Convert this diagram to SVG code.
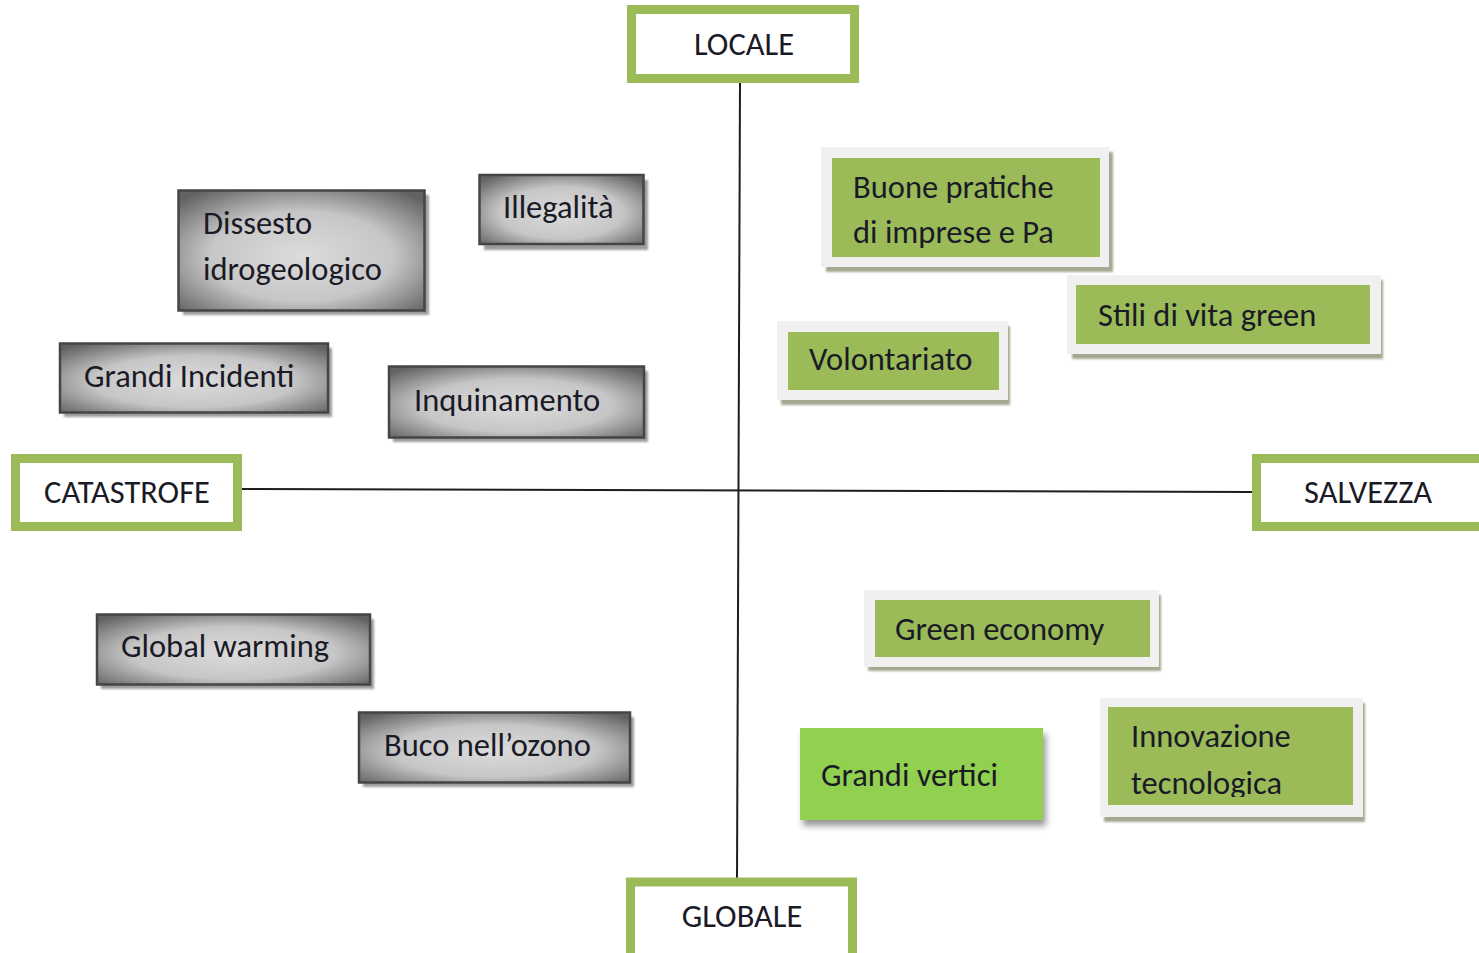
<svg xmlns="http://www.w3.org/2000/svg" width="1479" height="953" viewBox="0 0 1479 953">
<defs>
<radialGradient id="gray" cx="50%" cy="55%" r="68%">
<stop offset="0" stop-color="#dcdcdc"/>
<stop offset="0.55" stop-color="#c6c6c6"/>
<stop offset="1" stop-color="#626262"/>
</radialGradient>
<filter id="blur" x="-20%" y="-20%" width="140%" height="140%"><feGaussianBlur stdDeviation="3"/></filter>
<filter id="soft" x="-10%" y="-10%" width="120%" height="120%"><feGaussianBlur stdDeviation="1"/></filter>
</defs>
<style>
text{font-family:Carlito,Lato,"Liberation Sans",sans-serif;font-size:32.5px;fill:#1a1a26}
.axisbox{fill:#fff;stroke:#9bbb59;stroke-width:9}
.axis{stroke:#1e1e1e;stroke-width:2;fill:none}
.gbox{fill:url(#gray);stroke:#454545;stroke-width:2.5}
.gshadow{fill:#9c9c9c;filter:url(#soft)}
.frame{fill:#f0f0f0}
.fshadow{fill:#a3a98f;filter:url(#soft)}
.green{fill:#9bbb59}
.bright{fill:#92d050}
.bshadow{fill:#555;opacity:0.6;filter:url(#blur)}
</style>
<rect width="1479" height="953" fill="#fff"/>
<g id="connectors">
<path class="axis" d="M740 83 L737 878"/>
<path class="axis" d="M242 489 L1252 492"/>
</g>
<g id="locale"><rect class="axisbox" x="631.5" y="9.5" width="223" height="69"/><text x="744" y="55" text-anchor="middle">LOCALE</text></g>
<g id="catastrofe"><rect class="axisbox" x="15.5" y="458.5" width="222" height="68"/><text x="127" y="503" text-anchor="middle">CATASTROFE</text></g>
<g id="salvezza"><rect class="axisbox" x="1256.5" y="458.5" width="230" height="68"/><text x="1368" y="503" text-anchor="middle">SALVEZZA</text></g>
<g id="globale"><rect class="axisbox" x="630.5" y="882" width="222" height="78"/><text x="742" y="927" text-anchor="middle">GLOBALE</text></g>

<g id="dissesto"><rect class="gshadow" x="183" y="195" width="246" height="120"/><rect class="gbox" x="178.5" y="190.5" width="246" height="120"/><text x="203" y="234">Dissesto</text><text x="203" y="280">idrogeologico</text></g>
<g id="illegalita"><rect class="gshadow" x="484" y="180" width="164" height="70"/><rect class="gbox" x="479.5" y="175" width="164" height="69"/><text x="503" y="218">Illegalità</text></g>
<g id="grandi-incidenti"><rect class="gshadow" x="64" y="348" width="268" height="69"/><rect class="gbox" x="60" y="343.5" width="268" height="69"/><text x="84" y="387">Grandi Incidenti</text></g>
<g id="inquinamento"><rect class="gshadow" x="393" y="371" width="255" height="71"/><rect class="gbox" x="389" y="366.5" width="255" height="71"/><text x="414" y="411">Inquinamento</text></g>
<g id="global-warming"><rect class="gshadow" x="101" y="619" width="273" height="70"/><rect class="gbox" x="97" y="614.5" width="273" height="70"/><text x="121" y="657">Global warming</text></g>
<g id="buco"><rect class="gshadow" x="363" y="717" width="271" height="70"/><rect class="gbox" x="359" y="712.5" width="271" height="70"/><text x="384" y="756">Buco nell’ozono</text></g>

<g id="buone-pratiche"><rect class="fshadow" x="826" y="152" width="287" height="120"/><rect class="frame" x="821" y="147" width="288" height="120"/><rect class="green" x="832" y="158" width="268" height="99"/><text x="853" y="198">Buone pratiche</text><text x="853" y="243">di imprese e Pa</text></g>
<g id="stili"><rect class="fshadow" x="1072" y="280" width="311" height="79"/><rect class="frame" x="1067" y="275" width="314" height="79"/><rect class="green" x="1076" y="285" width="294" height="59"/><text x="1098" y="326">Stili di vita green</text></g>
<g id="volontariato"><rect class="fshadow" x="781" y="326" width="229" height="79"/><rect class="frame" x="777" y="321" width="231" height="79"/><rect class="green" x="788" y="332" width="211" height="58"/><text x="809" y="370">Volontariato</text></g>
<g id="green-economy"><rect class="fshadow" x="868" y="595" width="293" height="76"/><rect class="frame" x="864" y="590" width="295" height="77"/><rect class="green" x="875" y="600" width="275" height="57"/><text x="895" y="640">Green economy</text></g>
<g id="grandi-vertici"><rect class="bshadow" x="803" y="734" width="243" height="92"/><rect class="bright" x="800" y="728" width="243" height="92"/><text x="821" y="786">Grandi vertici</text></g>
<g id="innovazione"><rect class="fshadow" x="1104" y="703" width="261" height="119"/><rect class="frame" x="1100" y="698" width="263" height="119"/><rect class="green" x="1108" y="707" width="245" height="98"/><svg x="1108" y="707" width="245" height="90" overflow="hidden"><text x="23" y="40">Innovazione</text><text x="23" y="87">tecnologica</text></svg></g>
</svg>
